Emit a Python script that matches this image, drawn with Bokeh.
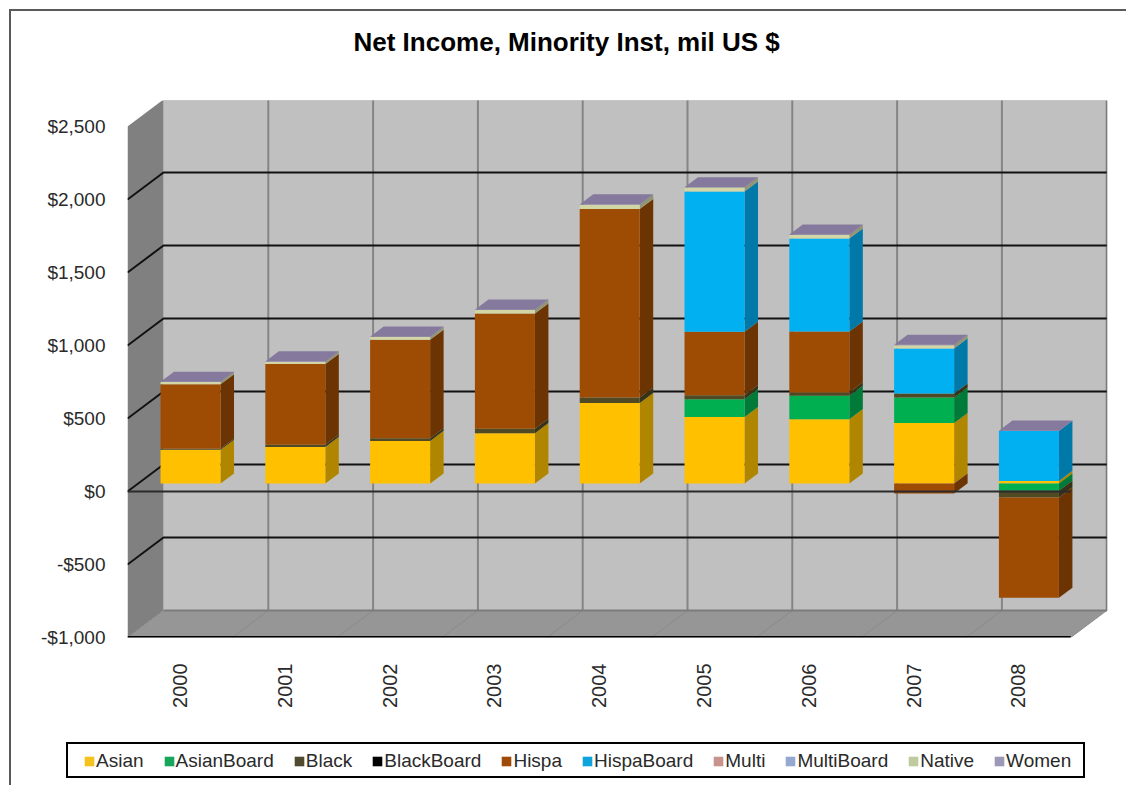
import math
from bokeh.embed import file_html
from bokeh.layouts import column
from bokeh.resources import INLINE
from bokeh.plotting import figure
from bokeh.models import (ColumnDataSource, FixedTicker, Legend,
                          LegendItem, Range1d, Title)

YEARS = ["2000", "2001", "2002", "2003", "2004", "2005", "2006", "2007", "2008"]
SERIES = ["Asian", "AsianBoard", "Black", "BlackBoard", "Hispa", "HispaBoard",
          "Multi", "MultiBoard", "Native", "Women"]
Asian      = [231, 251, 292, 345, 551, 455, 441, 414, 18]
AsianBoard = [0, 0, 0, 0, 0, 123, 160, 175, -50]
Black      = [8, 14, 18, 30, 38, 27, 23, 27, -45]
BlackBoard = [0, 0, 0, 0, 0, 0, 0, 0, 0]
Hispa      = [441, 553, 674, 789, 1291, 434, 417, -68, -688]
HispaBoard = [0, 0, 0, 0, 0, 961, 637, 309, 342]
Multi      = [0, 0, 0, 0, 0, 0, 0, 0, 0]
MultiBoard = [0, 0, 0, 0, 0, 0, 0, 0, 0]
Native     = [15, 16, 20, 25, 30, 27, 25, 23, 0]
Women      = [2, 2, 2, 2, 2, 2, 2, 2, 2]
VALUES = [Asian, AsianBoard, Black, BlackBoard, Hispa, HispaBoard, Multi, MultiBoard, Native, Women]
FRONT = ["#FFC000", "#00B050", "#4F4A24", "#000000", "#9E4B03", "#00B0F0",
         "#C0908C", "#95A8D0", "#D2D6A6", "#8C80A8"]
SIDE = ["#B08600", "#007A38", "#363318", "#000000", "#6C3403", "#0079A8",
        "#86645F", "#687592", "#939574", "#62597A"]
LEGEND_COLORS = ["#F5C21B", "#17A65C", "#4F4A30", "#000000", "#9E4B08", "#0FA5DC",
                 "#C8938C", "#95A8D0", "#BFCB9E", "#9C98B8"]
TOP_COLOR = "#857A9E"
VALUE_TICKS = [-1000, -500, 0, 500, 1000, 1500, 2000, 2500]
VALUE_LABELS = ["-$1,000", "-$500", "$0", "$500", "$1,000", "$1,500", "$2,000", "$2,500"]

FONT = "Liberation Sans"
PITCH = 104.8
DX = 36 / PITCH           # wall depth in category units
DY = 27 * 500 / 73        # wall depth in value units
N = len(YEARS)
BAR_W = 60 / PITCH
BAR_FRONT = 0.295         # fraction of the depth where the bar's front stands
BAR_DEPTH = 0.375         # fraction of the depth the bar takes
YMIN, YTOP = VALUE_TICKS[0], VALUE_TICKS[-1]

def rule(color, x, y, w, h):
    return f"linear-gradient({color},{color}) {x}px {y}px / {w} {h} no-repeat"

page_rules = ", ".join([
    rule("#5a5a5a", 9, 9, "100%", "2px"),      # chart border, top
    rule("#5a5a5a", 9, 9, "2px", "100%"),      # chart border, left
    rule("#000000", 66, 742, "1019px", "2px"),  # legend box
    rule("#000000", 66, 776, "1019px", "2px"),
    rule("#000000", 66, 742, "2px", "36px"),
    rule("#000000", 1083, 742, "2px", "36px"),
])
p = figure(width=1126, height=735, output_backend="svg", toolbar_location=None,
           frame_width=980, frame_height=537,
           x_range=Range1d(0, 980 / PITCH), y_range=Range1d(YMIN, YMIN + 537 * 500 / 73),
           min_border_left=127, min_border_right=19, min_border_top=100, min_border_bottom=98,
           background_fill_color=None, border_fill_color=None, outline_line_color=None)
p.grid.visible = False

# title, lifted clear of the plot frame by an empty spacer panel
p.add_layout(Title(text=" ", text_font_size="1px", standoff=41), "above")
p.add_layout(Title(text="Net Income, Minority Inst, mil US $", align="left", offset=226,
                   standoff=0, text_font=FONT, text_font_size="26px",
                   text_font_style="bold", text_color="#000000"), "above")

# axes
ya = p.yaxis[0]
ya.ticker = FixedTicker(ticks=VALUE_TICKS)
ya.major_label_overrides = dict(zip(VALUE_TICKS, VALUE_LABELS))
xa = p.xaxis[0]
xa.ticker = FixedTicker(ticks=[i + 0.5 for i in range(N)])
xa.major_label_overrides = {i + 0.5: y for i, y in enumerate(YEARS)}
xa.major_label_orientation = math.pi / 2
for ax, off, fs in ((ya, 16, "19px"), (xa, 20, "20px")):
    ax.axis_line_color = None
    ax.major_tick_line_color = None
    ax.minor_tick_line_color = None
    ax.major_label_text_font = FONT
    ax.major_label_text_font_size = fs
    ax.major_label_text_color = "#2a2a2a"
    ax.major_label_standoff = off

# walls
p.quad(left=DX, right=N + DX, bottom=YMIN + DY, top=YTOP + DY, fill_color="#C0C0C0", line_color=None)
p.patch([0, DX, DX, 0], [YMIN, YMIN + DY, YTOP + DY, YTOP], fill_color="#808080", line_color=None)
p.patch([0, N, N + DX, DX], [YMIN, YMIN, YMIN + DY, YMIN + DY], fill_color="#969696", line_color=None)

# floor diagonals
p.multi_line([[i, i + DX] for i in range(N + 1)], [[YMIN, YMIN + DY]] * (N + 1),
             line_color="#8a8a8a", line_width=1)
# vertical gridlines on the back wall
p.multi_line([[i + DX, i + DX] for i in range(1, N)], [[YMIN + DY, YTOP + DY]] * (N - 1),
             line_color="#858585", line_width=2)
# frame of the back wall
p.line([DX, N + DX, N + DX, DX], [YTOP + DY, YTOP + DY, YMIN + DY, YMIN + DY],
       line_color="#7c7c7c", line_width=2)
# horizontal gridlines: back wall and left wall
inner = [t for t in VALUE_TICKS if YMIN < t < YTOP]
p.multi_line([[0, DX, N + DX] for _ in inner], [[t, t + DY, t + DY] for t in inner],
             line_color="#111111", line_width=2)

# bars
bx0 = [i + 0.5 - BAR_W / 2 + DX * BAR_FRONT for i in range(N)]
bx1 = [x + BAR_W for x in bx0]
base = DY * BAR_FRONT
ox, oy = DX * BAR_DEPTH, DY * BAR_DEPTH

pos = [base] * N
neg = [base] * N
fronts = []
for k, vals in enumerate(VALUES):
    b, t = [], []
    for i, v in enumerate(vals):
        if v >= 0:
            b.append(pos[i]); pos[i] += v; t.append(pos[i])
        else:
            t.append(neg[i]); neg[i] += v; b.append(neg[i])
    sx = [[bx1[i], bx1[i] + ox, bx1[i] + ox, bx1[i]] for i in range(N) if t[i] > b[i]]
    sy = [[b[i], b[i] + oy, t[i] + oy, t[i]] for i in range(N) if t[i] > b[i]]
    if sx:
        p.patches(sx, sy, fill_color=SIDE[k], line_color=None)
    fronts.append(ColumnDataSource(dict(left=bx0, right=bx1, bottom=b, top=t)))

for k, src in enumerate(fronts):
    p.quad(left="left", right="right", bottom="bottom", top="top", source=src,
           fill_color=FRONT[k], line_color=None)
p.patches([[bx0[i], bx1[i], bx1[i] + ox, bx0[i] + ox] for i in range(N)],
          [[pos[i], pos[i], pos[i] + oy, pos[i] + oy] for i in range(N)],
          fill_color=TOP_COLOR, line_color=None)

# zero line and front floor edge drawn over the bars
p.line([0, N], [0, 0], line_color="#2b2b2b", line_width=2)
p.line([0, N], [YMIN, YMIN], line_color="#000000", line_width=3)

# legend in its own strip beneath the plot
q = figure(width=1126, height=50, output_backend="svg", toolbar_location=None,
           frame_width=1126, frame_height=50,
           x_axis_location=None, y_axis_location=None,
           x_range=Range1d(0, 1), y_range=Range1d(0, 1),
           min_border_left=0, min_border_right=0, min_border_top=0, min_border_bottom=0,
           background_fill_color=None, border_fill_color=None, outline_line_color=None)
q.grid.visible = False
swatches = [q.quad(left=[-2], right=[-1], bottom=[-2], top=[-1], fill_color=c, line_color=None)
            for c in LEGEND_COLORS]
legend = Legend(items=[LegendItem(label=s, renderers=[r]) for s, r in zip(SERIES, swatches)],
                orientation="horizontal", location=(83, 13),
                glyph_width=12, glyph_height=12, label_standoff=1, spacing=19,
                padding=7, margin=0, border_line_color=None,
                background_fill_alpha=0,
                label_text_font=FONT, label_text_font_size="19px", label_text_color="#2a2a2a")
q.add_layout(legend, "center")

page = column(p, q, spacing=0, styles={"background": page_rules})
open("out.html", "w").write(file_html(page, INLINE))
